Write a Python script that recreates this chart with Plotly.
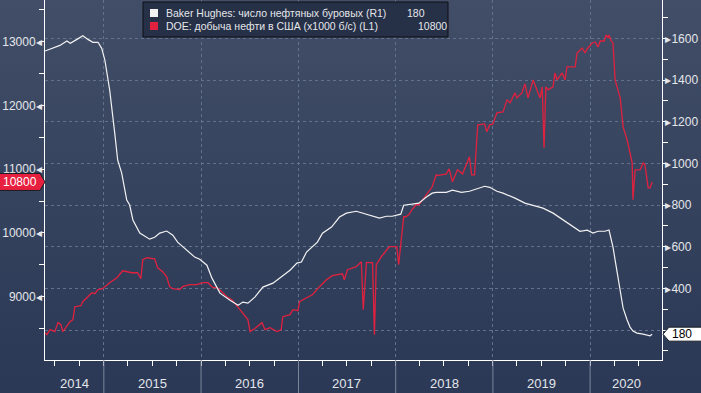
import base64
import pandas as pd
import plotly.graph_objects as go

# ---------------- data ----------------
white_dates = ["2014-05-25","2014-06-13","2014-07-20","2014-08-15","2014-08-28","2014-09-22","2014-10-14",
"2014-11-02","2014-11-21","2014-12-10","2014-12-24","2015-01-05","2015-01-23","2015-02-11","2015-02-22",
"2015-03-09","2015-03-28","2015-04-08","2015-04-20","2015-05-16","2015-06-22","2015-07-11","2015-07-30",
"2015-08-25","2015-09-17","2015-10-05","2015-11-08","2015-12-08","2015-12-27","2016-01-23","2016-02-11",
"2016-03-12","2016-04-19","2016-05-19","2016-06-06","2016-06-25","2016-07-21","2016-08-20","2016-09-27",
"2016-11-03","2016-11-30","2016-12-26","2017-01-12","2017-01-31","2017-02-19","2017-03-13","2017-04-01",
"2017-05-05","2017-06-04","2017-06-30","2017-08-06","2017-09-13","2017-10-02","2017-11-01","2017-11-27",
"2017-12-19","2018-01-20","2018-01-31","2018-03-03","2018-03-29","2018-04-25","2018-05-18","2018-06-02",
"2018-07-10","2018-08-02","2018-09-05","2018-10-05","2018-11-05","2018-12-01","2018-12-20","2019-01-16",
"2019-02-08","2019-03-25","2019-05-01","2019-06-01","2019-07-08","2019-08-15","2019-09-18","2019-10-18",
"2019-11-24","2019-12-21","2020-01-12","2020-01-31","2020-02-26","2020-03-12","2020-03-27","2020-04-04",
"2020-04-23","2020-05-04","2020-05-19","2020-05-30","2020-06-10","2020-06-25","2020-07-18","2020-08-06",
"2020-08-13","2020-08-21"]
white_vals = [1539,1547,1566,1587,1576,1595,1612,
1595,1581,1581,1552,1494,1351,1144,1015,
953,824,800,728,665,636,645,665,
675,655,622,583,550,540,511,449,
377,343,319,334,329,358,406,425,
459,487,521,526,574,598,622,665,
694,742,761,770,756,746,737,746,
746,756,799,804,809,837,857,861,
861,871,861,866,880,890,885,866,
857,833,809,799,785,761,732,708,
674,679,665,674,674,680,598,535,
377,305,248,214,195,185,180,175,
172,180]

red_dates = ["2014-05-25","2014-06-01","2014-06-13","2014-07-01","2014-07-13","2014-07-24","2014-07-31",
"2014-08-15","2014-08-27","2014-09-07","2014-09-14","2014-10-07","2014-10-14","2014-11-17","2014-11-28",
"2014-12-10","2014-12-27","2015-01-23","2015-02-19","2015-03-13","2015-04-16","2015-05-08","2015-05-20",
"2015-05-27","2015-06-11","2015-07-11","2015-07-22","2015-08-10","2015-08-25","2015-09-05","2015-09-17",
"2015-10-13","2015-10-24","2015-11-19","2015-12-16","2016-01-08","2016-01-27","2016-02-15","2016-03-01",
"2016-03-23","2016-04-07","2016-04-26","2016-05-19","2016-06-03","2016-06-25","2016-07-03","2016-07-21",
"2016-08-17","2016-08-28","2016-09-16","2016-10-12","2016-10-28","2016-11-03","2016-11-30","2016-12-11",
"2016-12-30","2017-01-05","2017-01-31","2017-02-22","2017-03-21","2017-04-16","2017-05-08","2017-06-04",
"2017-06-15","2017-06-22","2017-07-04","2017-08-06","2017-08-25","2017-09-01","2017-09-13","2017-10-06",
"2017-10-13","2017-10-20","2017-11-08","2017-12-08","2017-12-19","2018-01-05","2018-01-12","2018-01-19",
"2018-01-24","2018-01-31","2018-02-08","2018-02-19","2018-03-03","2018-03-18","2018-03-29","2018-04-25",
"2018-05-18","2018-06-02","2018-06-06","2018-07-10","2018-07-21","2018-08-02","2018-08-21","2018-09-09",
"2018-09-24","2018-10-05","2018-10-13","2018-10-24","2018-11-05","2018-12-01","2018-12-09","2018-12-20",
"2019-01-01","2019-01-16","2019-02-08","2019-02-23","2019-03-06","2019-03-25","2019-04-01","2019-04-20",
"2019-05-01","2019-05-13","2019-06-01","2019-06-16","2019-06-27","2019-07-05","2019-07-12","2019-07-19",
"2019-07-27","2019-08-15","2019-08-22","2019-08-30","2019-09-18","2019-09-29","2019-10-06","2019-11-06",
"2019-11-13","2019-12-02","2019-12-13","2019-12-21","2020-01-09","2020-01-20","2020-01-31","2020-02-08",
"2020-02-23","2020-03-01","2020-03-09","2020-03-12","2020-03-20","2020-03-27","2020-04-04","2020-04-23",
"2020-05-04","2020-05-19","2020-05-30","2020-06-07","2020-06-10","2020-06-18","2020-07-07","2020-07-18",
"2020-07-25","2020-08-06","2020-08-13","2020-08-21"]
red_vals = [8436,8405,8483,8452,8593,8561,8452,
8546,8608,8640,8843,8859,8922,9063,9047,
9110,9125,9220,9298,9407,9376,9376,9282,
9580,9611,9595,9454,9392,9313,9157,9125,
9110,9157,9188,9188,9220,9220,9141,9141,
9063,9000,8953,8828,8749,8640,8452,8500,
8593,8483,8514,8452,8483,8687,8718,8796,
8781,8922,8984,9031,9157,9266,9329,9345,
9360,9266,9423,9470,9548,8796,9533,9533,
8405,9501,9627,9784,9784,9784,9501,9784,
10003,10254,10254,10285,10363,10442,10442,10598,
10724,10912,10900,10927,11006,10802,10990,10927,
11100,11194,10912,10912,11695,11711,11586,11695,
11711,11883,11899,12087,12040,12197,12118,12197,
12338,12118,12400,12244,12118,12291,11335,12291,
12244,12291,12510,12400,12510,12400,12604,12604,
12823,12902,12823,12886,12980,12996,12918,13011,
13011,13105,13059,13105,13011,12980,12400,12118,
11664,11460,11256,11100,10520,10990,10990,11100,
11068,10708,10708,10800]

left_ticks = [9000, 10000, 11000, 12000, 13000]
right_ticks = [200, 400, 600, 800, 1000, 1200, 1400, 1600]
right_tick_labels = ["", "400", "600", "800", "1000", "1200", "1400", "1600"]
years = [2014, 2015, 2016, 2017, 2018, 2019, 2020]
legend_names = ["Baker Hughes: число нефтяных буровых (R1)",
                "DOE: добыча нефти в США (x1000 б/с) (L1)"]
legend_values = ["180", "10800"]

# ---------------- style ----------------
W, H = 701, 393
ML, MR, MT, MB = 45, 39, 0, 33
PW, PH = W - ML - MR, H - MT - MB
X_RANGE = ["2014-05-25", "2020-09-27"]
Y_RANGE = [8007, 13654]
Y2_RANGE = [56, 1784]
RED = "#e0213f"
WHITE = "#f2f2f2"
TXT = "#e4e6ea"
FONT = "Liberation Sans, Arial, sans-serif"

def px_x(p):  # pixel -> paper x
    return (p - ML) / PW

def px_y(p):  # pixel -> paper y
    return 1 - (p - MT) / PH

fig = go.Figure()
fig.add_trace(go.Scatter(x=red_dates, y=red_vals, mode="lines", yaxis="y",
                         line=dict(color=RED, width=1.3), showlegend=False, hoverinfo="skip"))
fig.add_trace(go.Scatter(x=white_dates, y=white_vals, mode="lines", yaxis="y2",
                         line=dict(color=WHITE, width=1.2), showlegend=False, hoverinfo="skip"))

svg = ('<svg xmlns="http://www.w3.org/2000/svg" width="701" height="393" preserveAspectRatio="none">'
       '<defs><linearGradient id="g" x1="0" y1="0" x2="0" y2="1">'
       '<stop offset="0" stop-color="#424e67"/><stop offset="0.9" stop-color="#2c3a57"/>'
       '<stop offset="1" stop-color="#2b3957"/></linearGradient></defs>'
       '<rect width="701" height="393" fill="url(#g)"/></svg>')
src = "data:image/svg+xml;base64," + base64.b64encode(svg.encode()).decode()

year_starts = [f"{y}-01-01" for y in years[1:]]
r0, r1 = pd.Timestamp(X_RANGE[0]), pd.Timestamp(X_RANGE[1])
shapes = []
annotations = []
for y in years:
    s = max(pd.Timestamp(f"{y}-01-01"), r0)
    e = min(pd.Timestamp(f"{y+1}-01-01"), r1)
    mid = s + (e - s) / 2
    annotations.append(dict(x=mid.strftime("%Y-%m-%d"), y=px_y(383), xref="x", yref="paper",
                            text=str(y), showarrow=False, xanchor="center", yanchor="middle",
                            font=dict(family=FONT, size=13, color=TXT)))
for d in year_starts:
    shapes.append(dict(type="line", xref="x", yref="paper", x0=d, x1=d, y0=0, y1=px_y(H),
                       line=dict(color="#7d8699", width=1)))

# legend box
shapes.append(dict(type="rect", xref="paper", yref="paper", x0=px_x(143), x1=px_x(448),
                   y0=px_y(37), y1=px_y(2), fillcolor="rgba(36,46,68,0.92)",
                   line=dict(color="#0d0f14", width=1)))
for i, col in enumerate([WHITE, RED]):
    top = 9 + i * 13
    shapes.append(dict(type="rect", xref="paper", yref="paper", x0=px_x(150), x1=px_x(158),
                       y0=px_y(top + 8), y1=px_y(top), fillcolor=col, line=dict(width=0)))
    annotations.append(dict(x=px_x(164), y=px_y(top + 4), xref="paper", yref="paper",
                            text=legend_names[i], showarrow=False, xanchor="left", yanchor="middle",
                            font=dict(family=FONT, size=10.5, color=TXT)))
    annotations.append(dict(x=px_x([405, 416][i]), y=px_y(top + 4), xref="paper", yref="paper",
                            text=legend_values[i], showarrow=False, xanchor="left", yanchor="middle",
                            font=dict(family=FONT, size=10.5, color=TXT)))

# last-value tags
lv = red_vals[-1]
hh = 8.5 / PH * (Y_RANGE[1] - Y_RANGE[0])
shapes.append(dict(type="path", xref="paper", yref="y",
                   path=f"M {px_x(-2)},{lv+hh} L {px_x(40)},{lv+hh} L {px_x(45)},{lv} "
                        f"L {px_x(40)},{lv-hh} L {px_x(-2)},{lv-hh} Z",
                   fillcolor="#e8203f", line=dict(color="#1a1d24", width=1)))
annotations.append(dict(x=px_x(20), y=lv, xref="paper", yref="y", text=str(lv), showarrow=False,
                        xanchor="center", yanchor="middle", font=dict(family=FONT, size=12, color="white")))
rv = white_vals[-1]
hh2 = 7 / PH * (Y2_RANGE[1] - Y2_RANGE[0])
shapes.append(dict(type="path", xref="paper", yref="y2",
                   path=f"M {px_x(663)},{rv} L {px_x(669)},{rv+hh2} L {px_x(703)},{rv+hh2} "
                        f"L {px_x(703)},{rv-hh2} L {px_x(669)},{rv-hh2} Z",
                   fillcolor="white", line=dict(color="#1a1d24", width=1)))
annotations.append(dict(x=px_x(682), y=rv, xref="paper", yref="y2", text=str(rv), showarrow=False,
                        xanchor="center", yanchor="middle", font=dict(family=FONT, size=12, color="black")))

fig.update_layout(
    width=W, height=H, margin=dict(l=ML, r=MR, t=MT, b=MB),
    paper_bgcolor="#2b3957", plot_bgcolor="rgba(0,0,0,0)",
    hovermode=False,
    images=[dict(source=src, xref="paper", yref="paper", x=px_x(0), y=px_y(0),
                 sizex=W / PW, sizey=H / PH, sizing="stretch", xanchor="left", yanchor="top",
                 layer="below")],
    xaxis=dict(type="date", range=X_RANGE, tickmode="array", tickvals=year_starts,
               showticklabels=False, ticks="", showgrid=True, gridcolor="#62718c",
               griddash="3px,3px", gridwidth=1, showline=True, linecolor="white", linewidth=1,
               zeroline=False,
               minor=dict(dtick="M3", tick0="2014-01-01", ticks="outside", ticklen=5,
                          tickcolor="white", showgrid=False)),
    yaxis=dict(range=Y_RANGE, tickmode="array", tickvals=left_ticks,
               ticktext=[f"{v}◂" for v in left_ticks], ticks="", showgrid=False,
               showline=True, linecolor="white", linewidth=1, zeroline=False,
               tickfont=dict(family=FONT, size=12, color=TXT),
               minor=dict(dtick=500, tick0=0, ticks="outside", ticklen=5, tickcolor="white",
                          showgrid=False)),
    yaxis2=dict(range=Y2_RANGE, overlaying="y", side="right", tickmode="array",
                tickvals=right_ticks, ticktext=[f"▸{t}" if t else "" for t in right_tick_labels],
                ticks="", showgrid=True, gridcolor="#62718c", griddash="3px,3px", gridwidth=1,
                showline=True, linecolor="white", linewidth=1, zeroline=False,
                tickfont=dict(family=FONT, size=12, color=TXT),
                minor=dict(dtick=100, tick0=0, ticks="outside", ticklen=5, tickcolor="white",
                           showgrid=False)),
    shapes=shapes, annotations=annotations,
)
fig.write_html("out.html", config={"displayModeBar": False},
               post_script="document.body.style.margin='0';document.body.style.overflow='hidden';")
